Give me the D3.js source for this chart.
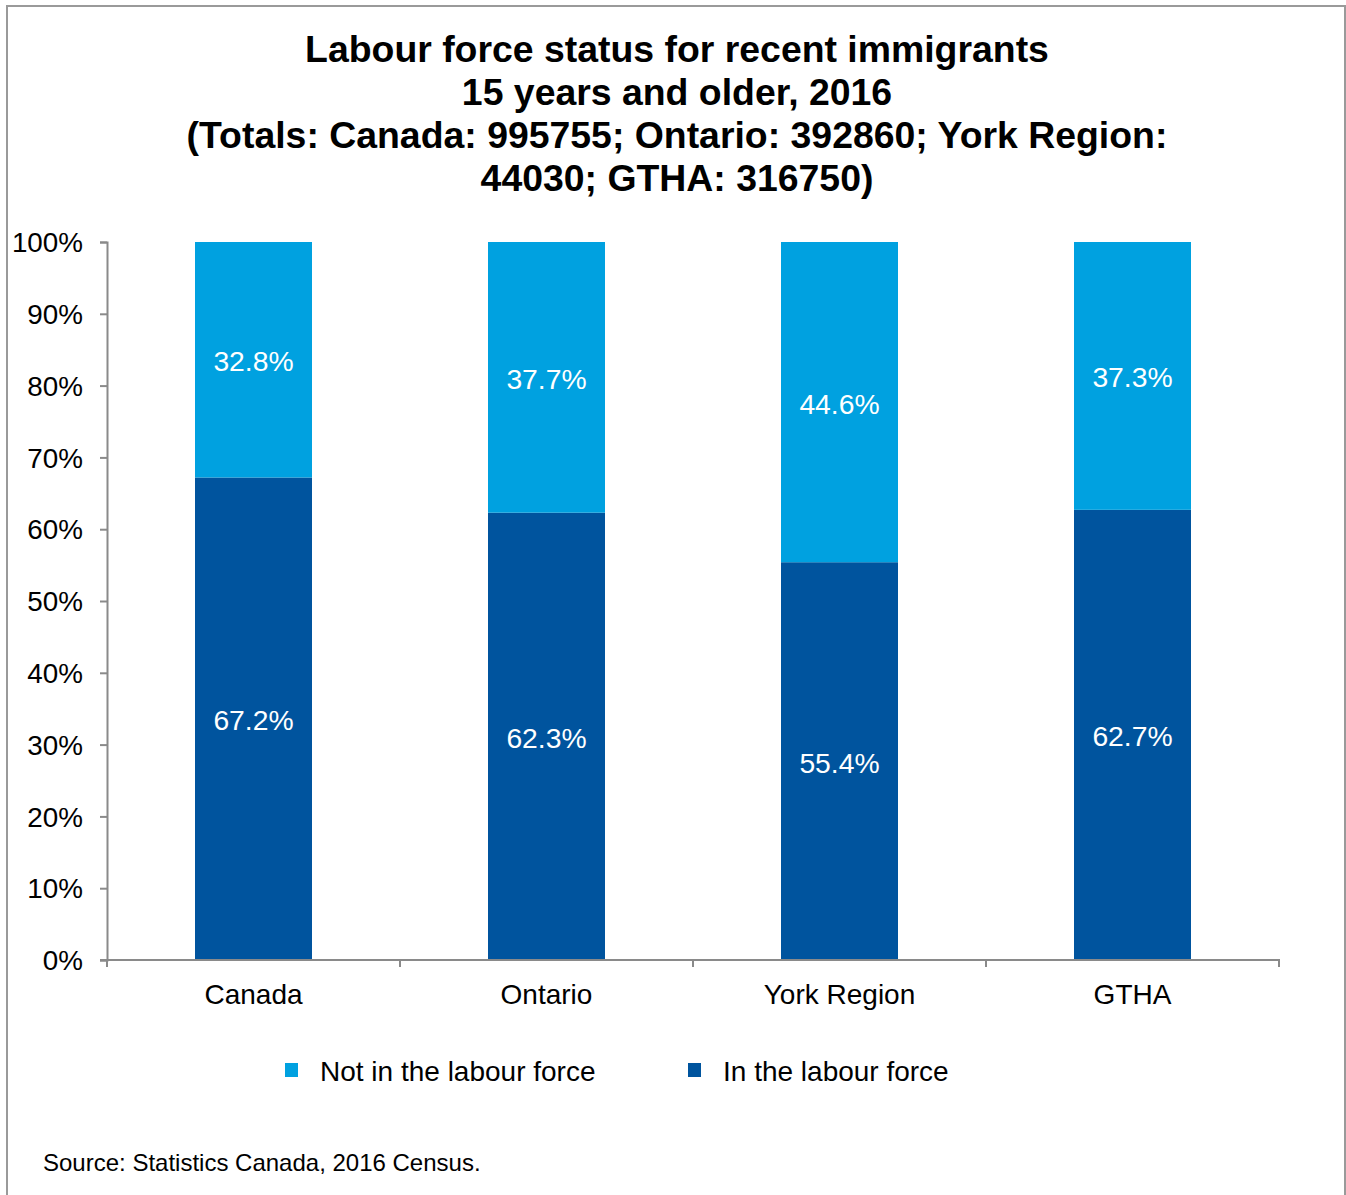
<!DOCTYPE html>
<html>
<head>
<meta charset="utf-8">
<script src="https://cdn.jsdelivr.net/npm/d3@7"></script>
<style>
  html, body { margin: 0; padding: 0; background: #fff; }
  svg { display: block; font-family: "Liberation Sans", Arial, sans-serif; }
</style>
</head>
<body>
<svg id="chart" width="1346" height="1195"></svg>
<script>
// Labour force status of recent immigrants, 15+, 2016 Census
const regions = ["Canada", "Ontario", "York Region", "GTHA"];
const inLabourForce = [67.2, 62.3, 55.4, 62.7];
const notInLabourForce = [32.8, 37.7, 44.6, 37.3];
const seriesNames = ["Not in the labour force", "In the labour force"];
const yTicks = [0, 10, 20, 30, 40, 50, 60, 70, 80, 90, 100];
const titleLines = [
  "Labour force status for recent immigrants",
  "15 years and older, 2016",
  "(Totals: Canada: 995755; Ontario: 392860; York Region:",
  "44030; GTHA: 316750)"
];
const sourceNote = "Source: Statistics Canada, 2016 Census.";

const colors = { notIn: "#00A1E0", inLF: "#00549E" };
const axisColor = "#8a8a8a";

const svg = d3.select("#chart");

// outer frame
svg.append("rect")
  .attr("x", 7).attr("y", 6)
  .attr("width", 1338).attr("height", 1200)
  .attr("fill", "#fff")
  .attr("stroke", "#9a9a9a").attr("stroke-width", 2);

// title
svg.append("g").selectAll("text")
  .data(titleLines)
  .join("text")
  .attr("x", 677)
  .attr("y", (d, i) => 49 + i * 43)
  .attr("text-anchor", "middle")
  .attr("dominant-baseline", "central")
  .attr("font-weight", "bold")
  .attr("font-size", 37.4)
  .attr("fill", "#000")
  .text(d => d);

const plot = { left: 107, right: 1279, top: 242, bottom: 960 };

const xOuter = d3.scaleBand().domain(regions).range([plot.left, plot.right]);
const y = d3.scaleLinear().domain([0, 100]).range([plot.bottom, plot.top]);

// stacked data
const rows = regions.map((r, i) => ({ region: r, inLF: inLabourForce[i], notIn: notInLabourForce[i] }));
const stack = d3.stack().keys(["inLF", "notIn"]);
const layers = stack(rows);

const barW = 117;
const g = svg.append("g");
layers.forEach(layer => {
  g.append("g").selectAll("rect")
    .data(layer)
    .join("rect")
    .attr("x", d => xOuter(d.data.region) + xOuter.bandwidth() / 2 - barW / 2)
    .attr("width", barW)
    .attr("y", d => y(d[1]))
    .attr("height", d => y(d[0]) - y(d[1]))
    .attr("fill", colors[layer.key]);

  g.append("g").selectAll("text")
    .data(layer)
    .join("text")
    .attr("x", d => xOuter(d.data.region) + xOuter.bandwidth() / 2)
    .attr("y", d => (y(d[0]) + y(d[1])) / 2 + 1.5)
    .attr("text-anchor", "middle")
    .attr("dominant-baseline", "central")
    .attr("font-size", 28.3)
    .attr("fill", "#fff")
    .text(d => d.data[layer.key].toFixed(1) + "%");
});

// y axis
const yAxis = svg.append("g")
  .attr("transform", `translate(${plot.left},0)`)
  .call(d3.axisLeft(y).tickValues(yTicks).tickSize(7).tickPadding(17).tickFormat(d => d + "%"));
yAxis.select(".domain").attr("stroke", axisColor).attr("stroke-width", 2);
yAxis.selectAll(".tick line").attr("stroke", axisColor).attr("stroke-width", 2);
yAxis.selectAll(".tick text")
  .attr("font-size", 27.8).attr("fill", "#000")
  .attr("font-family", "'Liberation Sans', Arial, sans-serif")
  .attr("dy", "0.35em");

// x axis: line with tick marks at category boundaries
const xAxisG = svg.append("g");
xAxisG.append("line")
  .attr("x1", plot.left - 7).attr("x2", plot.right + 1)
  .attr("y1", plot.bottom).attr("y2", plot.bottom)
  .attr("stroke", axisColor).attr("stroke-width", 2);
const boundaries = regions.map(r => xOuter(r)).concat([plot.right]);
xAxisG.selectAll("line.bound")
  .data(boundaries)
  .join("line")
  .attr("class", "bound")
  .attr("x1", d => d).attr("x2", d => d)
  .attr("y1", plot.bottom).attr("y2", plot.bottom + 7)
  .attr("stroke", axisColor).attr("stroke-width", 2);
xAxisG.selectAll("text")
  .data(regions)
  .join("text")
  .attr("x", d => xOuter(d) + xOuter.bandwidth() / 2)
  .attr("y", 994)
  .attr("text-anchor", "middle")
  .attr("dominant-baseline", "central")
  .attr("font-size", 28)
  .attr("fill", "#000")
  .text(d => d);

// legend
const legendItems = [
  { name: seriesNames[0], color: colors.notIn, x: 285 },
  { name: seriesNames[1], color: colors.inLF, x: 688 }
];
const lg = svg.append("g").selectAll("g").data(legendItems).join("g")
  .attr("transform", d => `translate(${d.x},1070)`);
lg.append("rect").attr("x", 0).attr("y", -7).attr("width", 13).attr("height", 14).attr("fill", d => d.color);
lg.append("text")
  .attr("x", 35).attr("y", 1)
  .attr("dominant-baseline", "central")
  .attr("font-size", 28)
  .attr("fill", "#000")
  .text(d => d.name);

// source note
svg.append("text")
  .attr("x", 43).attr("y", 1162)
  .attr("dominant-baseline", "central")
  .attr("font-size", 24)
  .attr("fill", "#000")
  .text(sourceNote);
</script>
</body>
</html>
